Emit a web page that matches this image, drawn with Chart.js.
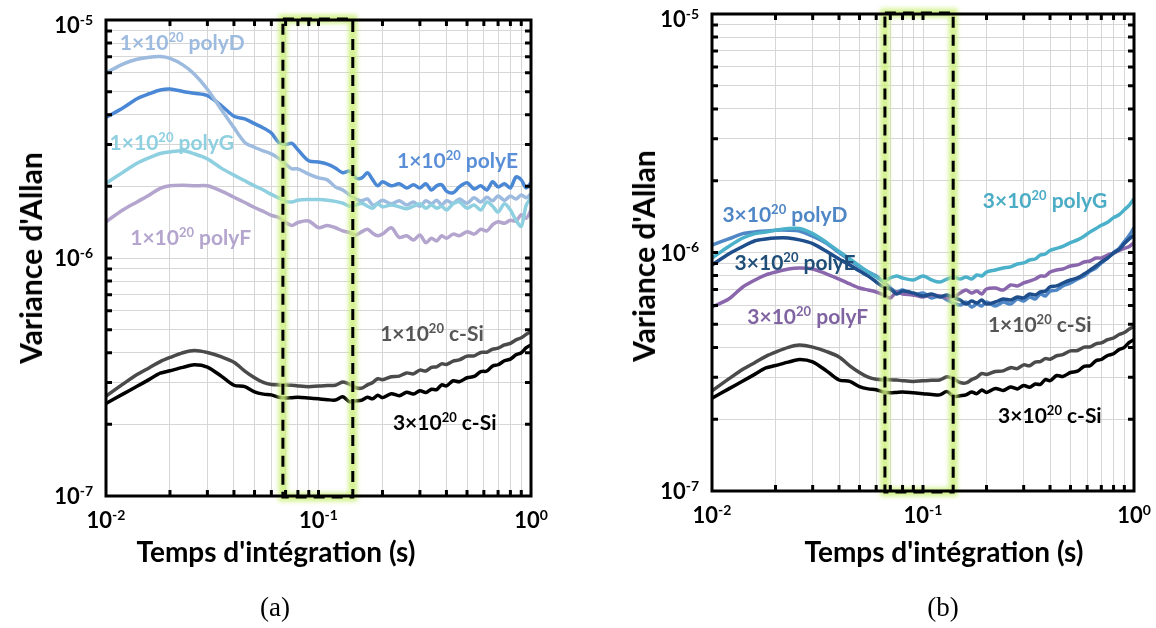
<!DOCTYPE html>
<html>
<head>
<meta charset="utf-8">
<title>Variance d'Allan</title>
<script src="https://cdn.jsdelivr.net/npm/chart.js@4.4.1/dist/chart.umd.min.js"></script>
<style>
  html, body { margin: 0; padding: 0; background: #fff; }
  #wrap { position: relative; width: 1156px; height: 628px; overflow: hidden; font-family: Lato, "Open Sans", sans-serif; }
  #wrap canvas { position: absolute; left: 0; top: 0; }
  .lbl { position: absolute; white-space: nowrap; font-weight: 700; color: #000; transform: translate(-50%, -50%); }
  .xt { font-size: 28px; }
  .yt { font-size: 30px; transform: translate(-50%, -50%) rotate(-90deg); }
  .cap { font-family: "Liberation Serif", "Times New Roman", serif; font-weight: 400; font-size: 27px; }
</style>
</head>
<body>
<div id="wrap">
  <canvas id="chartA" width="1156" height="628"></canvas>
  <canvas id="chartB" width="1156" height="628"></canvas>
  <div class="lbl yt" style="left:30px; top:258px">Variance d'Allan</div>
  <div class="lbl yt" style="left:643px; top:256px">Variance d'Allan</div>
  <div class="lbl xt" style="left:276px; top:551px">Temps d'intégration (s)</div>
  <div class="lbl xt" style="left:944px; top:551px">Temps d'intégration (s)</div>
  <div class="lbl cap" style="left:275px; top:607px">(a)</div>
  <div class="lbl cap" style="left:943px; top:607px">(b)</div>
</div>
<script>
// integration time (s), shared by every curve
const tau = [0.01, 0.012, 0.014, 0.016, 0.018, 0.02, 0.023, 0.026, 0.03, 0.035, 0.04, 0.045, 0.05, 0.055,
  0.06, 0.065, 0.07, 0.075, 0.08, 0.09, 0.1, 0.11, 0.12, 0.13, 0.14, 0.15,
  0.16, 0.17, 0.18, 0.19, 0.2, 0.22, 0.24, 0.26, 0.28, 0.3, 0.32, 0.34, 0.36, 0.38, 0.4,
  0.43, 0.46, 0.5, 0.54, 0.58, 0.62, 0.66, 0.7, 0.75, 0.8, 0.85, 0.9, 0.95, 1.0];

// (a) 1e20 doped samples
const polyD1 = [5.99e-6, 6.53e-6, 6.84e-6, 6.98e-6, 7.02e-6, 6.90e-6, 6.48e-6, 5.93e-6, 5.12e-6, 4.19e-6, 3.53e-6, 3.06e-6, 2.92e-6, 2.82e-6,
  2.74e-6, 2.62e-6, 2.48e-6, 2.37e-6, 2.37e-6, 2.25e-6, 2.17e-6, 2.13e-6, 1.99e-6, 1.93e-6, 1.84e-6, 1.77e-6,
  1.74e-6, 1.77e-6, 1.67e-6, 1.70e-6, 1.75e-6, 1.69e-6, 1.74e-6, 1.67e-6, 1.72e-6, 1.65e-6, 1.74e-6, 1.69e-6, 1.75e-6, 1.67e-6, 1.74e-6,
  1.70e-6, 1.77e-6, 1.70e-6, 1.79e-6, 1.72e-6, 1.80e-6, 1.74e-6, 1.82e-6, 1.75e-6, 1.82e-6, 1.77e-6, 1.84e-6, 1.79e-6, 1.86e-6];
const polyE1 = [3.90e-6, 4.27e-6, 4.67e-6, 4.90e-6, 5.08e-6, 5.13e-6, 5.01e-6, 4.92e-6, 4.81e-6, 4.36e-6, 3.94e-6, 3.84e-6, 3.67e-6, 3.52e-6,
  3.35e-6, 3.06e-6, 3.00e-6, 3.03e-6, 2.85e-6, 2.56e-6, 2.53e-6, 2.48e-6, 2.39e-6, 2.28e-6, 2.32e-6, 2.17e-6,
  2.17e-6, 2.28e-6, 2.13e-6, 2.01e-6, 2.09e-6, 2.01e-6, 2.05e-6, 1.97e-6, 2.03e-6, 1.97e-6, 2.05e-6, 1.93e-6, 2.01e-6, 2.03e-6, 1.91e-6,
  1.88e-6, 1.99e-6, 2.07e-6, 1.95e-6, 2.01e-6, 1.93e-6, 2.09e-6, 1.99e-6, 2.05e-6, 1.97e-6, 2.19e-6, 2.13e-6, 1.97e-6, 2.07e-6];
const polyG1 = [2.06e-6, 2.29e-6, 2.50e-6, 2.64e-6, 2.75e-6, 2.79e-6, 2.82e-6, 2.74e-6, 2.61e-6, 2.38e-6, 2.23e-6, 2.11e-6, 2.01e-6, 1.93e-6,
  1.85e-6, 1.79e-6, 1.73e-6, 1.72e-6, 1.75e-6, 1.76e-6, 1.76e-6, 1.75e-6, 1.73e-6, 1.70e-6, 1.65e-6, 1.67e-6,
  1.70e-6, 1.65e-6, 1.62e-6, 1.69e-6, 1.64e-6, 1.67e-6, 1.64e-6, 1.61e-6, 1.65e-6, 1.69e-6, 1.62e-6, 1.67e-6, 1.62e-6, 1.65e-6, 1.59e-6,
  1.69e-6, 1.72e-6, 1.62e-6, 1.67e-6, 1.59e-6, 1.72e-6, 1.65e-6, 1.56e-6, 1.69e-6, 1.59e-6, 1.44e-6, 1.36e-6, 1.67e-6, 1.79e-6];
const polyF1 = [1.42e-6, 1.59e-6, 1.72e-6, 1.84e-6, 1.96e-6, 2.01e-6, 2.02e-6, 2.01e-6, 2.01e-6, 1.91e-6, 1.80e-6, 1.71e-6, 1.63e-6, 1.57e-6,
  1.51e-6, 1.48e-6, 1.41e-6, 1.37e-6, 1.41e-6, 1.43e-6, 1.34e-6, 1.37e-6, 1.34e-6, 1.30e-6, 1.28e-6, 1.25e-6,
  1.29e-6, 1.32e-6, 1.27e-6, 1.24e-6, 1.26e-6, 1.34e-6, 1.22e-6, 1.24e-6, 1.19e-6, 1.25e-6, 1.16e-6, 1.21e-6, 1.18e-6, 1.24e-6, 1.21e-6,
  1.26e-6, 1.24e-6, 1.29e-6, 1.26e-6, 1.32e-6, 1.30e-6, 1.38e-6, 1.42e-6, 1.40e-6, 1.44e-6, 1.43e-6, 1.52e-6, 1.47e-6, 1.59e-6];

// crystalline references, same in (a) and (b)
const cSi1 = [2.63e-7, 2.95e-7, 3.24e-7, 3.46e-7, 3.67e-7, 3.82e-7, 4.00e-7, 4.09e-7, 4.01e-7, 3.84e-7, 3.65e-7, 3.35e-7, 3.14e-7, 3.00e-7,
  2.94e-7, 2.93e-7, 2.93e-7, 2.92e-7, 2.90e-7, 2.88e-7, 2.90e-7, 2.91e-7, 2.92e-7, 3.01e-7, 2.95e-7, 2.85e-7,
  2.84e-7, 2.93e-7, 3.00e-7, 3.11e-7, 3.08e-7, 3.17e-7, 3.19e-7, 3.29e-7, 3.26e-7, 3.38e-7, 3.35e-7, 3.47e-7, 3.49e-7, 3.59e-7, 3.57e-7,
  3.69e-7, 3.73e-7, 3.87e-7, 3.88e-7, 4.01e-7, 4.02e-7, 4.14e-7, 4.18e-7, 4.31e-7, 4.38e-7, 4.53e-7, 4.62e-7, 4.78e-7, 4.90e-7];
const cSi3 = [2.45e-7, 2.68e-7, 2.89e-7, 3.09e-7, 3.28e-7, 3.36e-7, 3.47e-7, 3.56e-7, 3.48e-7, 3.18e-7, 2.92e-7, 2.88e-7, 2.74e-7, 2.68e-7,
  2.66e-7, 2.60e-7, 2.58e-7, 2.59e-7, 2.60e-7, 2.58e-7, 2.56e-7, 2.54e-7, 2.53e-7, 2.61e-7, 2.49e-7, 2.51e-7,
  2.53e-7, 2.60e-7, 2.56e-7, 2.65e-7, 2.59e-7, 2.69e-7, 2.64e-7, 2.73e-7, 2.68e-7, 2.77e-7, 2.72e-7, 2.81e-7, 2.80e-7, 2.93e-7, 2.90e-7,
  3.05e-7, 3.02e-7, 3.14e-7, 3.18e-7, 3.33e-7, 3.35e-7, 3.52e-7, 3.56e-7, 3.70e-7, 3.76e-7, 3.92e-7, 4.00e-7, 4.20e-7, 4.31e-7];

// (b) 3e20 doped samples
const polyD3 = [1.075e-6, 1.14e-6, 1.20e-6, 1.22e-6, 1.23e-6, 1.24e-6, 1.24e-6, 1.23e-6, 1.17e-6, 1.09e-6, 1.00e-6, 9.30e-7, 8.70e-7, 8.28e-7,
  7.97e-7, 7.52e-7, 7.10e-7, 6.83e-7, 6.96e-7, 6.64e-7, 6.76e-7, 6.45e-7, 6.57e-7, 6.32e-7, 6.14e-7, 6.02e-7,
  6.20e-7, 5.91e-7, 6.08e-7, 5.97e-7, 6.20e-7, 5.97e-7, 6.20e-7, 6.08e-7, 6.38e-7, 6.26e-7, 6.51e-7, 6.38e-7, 6.70e-7, 6.57e-7, 6.89e-7,
  6.96e-7, 7.24e-7, 7.45e-7, 7.74e-7, 7.97e-7, 8.36e-7, 8.61e-7, 9.04e-7, 9.48e-7, 1.00e-6, 1.04e-6, 1.11e-6, 1.18e-6, 1.27e-6];
const polyE3 = [8.87e-7, 9.86e-7, 1.06e-6, 1.12e-6, 1.14e-6, 1.15e-6, 1.15e-6, 1.13e-6, 1.09e-6, 1.01e-6, 9.39e-7, 8.87e-7, 8.36e-7, 7.97e-7,
  7.52e-7, 7.17e-7, 7.03e-7, 6.70e-7, 6.89e-7, 6.76e-7, 6.57e-7, 6.70e-7, 6.51e-7, 6.64e-7, 6.45e-7, 6.32e-7,
  6.08e-7, 6.26e-7, 6.14e-7, 6.32e-7, 6.08e-7, 6.20e-7, 6.38e-7, 6.32e-7, 6.51e-7, 6.45e-7, 6.70e-7, 6.64e-7, 6.83e-7, 6.89e-7, 7.17e-7,
  7.24e-7, 7.45e-7, 7.67e-7, 7.82e-7, 8.12e-7, 8.45e-7, 8.78e-7, 9.12e-7, 9.48e-7, 9.95e-7, 1.03e-6, 1.09e-6, 1.14e-6, 1.18e-6];
const polyG3 = [9.48e-7, 1.06e-6, 1.15e-6, 1.20e-6, 1.22e-6, 1.24e-6, 1.26e-6, 1.26e-6, 1.20e-6, 1.10e-6, 1.01e-6, 9.39e-7, 8.78e-7, 8.28e-7,
  7.89e-7, 7.59e-7, 7.82e-7, 7.97e-7, 7.82e-7, 7.67e-7, 7.97e-7, 7.67e-7, 7.52e-7, 7.74e-7, 7.89e-7, 7.74e-7,
  7.89e-7, 7.74e-7, 8.05e-7, 7.97e-7, 8.28e-7, 8.45e-7, 8.61e-7, 8.70e-7, 8.95e-7, 9.04e-7, 9.30e-7, 9.39e-7, 9.76e-7, 9.86e-7, 1.02e-6,
  1.04e-6, 1.06e-6, 1.10e-6, 1.13e-6, 1.17e-6, 1.22e-6, 1.26e-6, 1.30e-6, 1.34e-6, 1.40e-6, 1.44e-6, 1.51e-6, 1.58e-6, 1.68e-6];
const polyF3 = [5.91e-7, 6.38e-7, 7.17e-7, 7.67e-7, 8.05e-7, 8.28e-7, 8.53e-7, 8.61e-7, 8.53e-7, 8.12e-7, 7.74e-7, 7.38e-7, 7.10e-7, 6.96e-7,
  6.83e-7, 6.64e-7, 6.45e-7, 6.83e-7, 6.70e-7, 6.64e-7, 6.51e-7, 6.64e-7, 6.57e-7, 6.45e-7, 6.51e-7, 6.76e-7,
  6.96e-7, 6.76e-7, 6.89e-7, 6.70e-7, 7.03e-7, 7.10e-7, 6.96e-7, 7.31e-7, 7.24e-7, 7.45e-7, 7.59e-7, 7.74e-7, 7.97e-7, 7.97e-7, 8.28e-7,
  8.45e-7, 8.53e-7, 8.78e-7, 8.87e-7, 9.12e-7, 9.21e-7, 9.48e-7, 9.48e-7, 9.76e-7, 9.95e-7, 1.02e-6, 1.04e-6, 1.06e-6, 1.10e-6];

// axis decades
const xDecades = [0.01, 0.1, 1];
const yDecades = [1e-7, 1e-6, 1e-5];
const xTickSup = ['-2', '-1', '0'];
const yTickSup = ['-7', '-6', '-5'];

// highlighted window (s)
const windowA = [0.068, 0.145];
const windowB = [0.066, 0.139];

function logTicks(decades) {
  let ticks = [];
  for (let d = 0; d < decades.length - 1; d++) {
    for (let m = 1; m < 10; m++) {
      ticks.push({value: m * decades[d]});
    }
  }
  ticks.push({value: decades[decades.length - 1]});
  return ticks;
}

function drawSup(ctx, x, y, parts, size, color, align) {
  let fb = '700 ' + size + 'px Lato';
  let fs = '700 ' + Math.round(size * 0.64) + 'px Lato';
  ctx.font = fb;
  let w1 = ctx.measureText(parts[0]).width;
  let w3 = parts[2] ? ctx.measureText(parts[2]).width : 0;
  ctx.font = fs;
  let w2 = ctx.measureText(parts[1]).width;
  let total = w1 + w2 + w3;
  let x0 = align == 'right' ? x - total : (align == 'center' ? x - total / 2 : x);
  ctx.fillStyle = color;
  ctx.textAlign = 'left';
  ctx.textBaseline = 'alphabetic';
  ctx.font = fb;
  ctx.fillText(parts[0], x0, y);
  ctx.font = fs;
  ctx.fillText(parts[1], x0 + w1, y - size * 0.38);
  if (parts[2]) {
    ctx.font = fb;
    ctx.fillText(parts[2], x0 + w1 + w2, y);
  }
}

const framePlugin = {
  id: 'frame',
  afterDatasetsDraw(chart, args, opts) {
    const ctx = chart.ctx;
    const a = chart.chartArea;
    const xs = chart.scales.x, ys = chart.scales.y;
    ctx.save();

    // dashed window with a soft green glow
    let x0 = xs.getPixelForValue(opts.window[0]);
    let x1 = xs.getPixelForValue(opts.window[1]);
    ctx.filter = 'blur(2px)';
    ctx.strokeStyle = 'rgba(205,240,125,0.85)';
    ctx.lineWidth = 9;
    ctx.strokeRect(x0, a.top - 1, x1 - x0, a.bottom - a.top + 2);
    ctx.filter = 'none';
    ctx.strokeStyle = '#000';
    ctx.lineWidth = 3;
    ctx.setLineDash([11, 7]);
    ctx.strokeRect(x0, a.top - 1, x1 - x0, a.bottom - a.top + 2);
    ctx.setLineDash([]);

    // plot frame and inward ticks
    ctx.strokeStyle = '#000';
    ctx.lineWidth = 3;
    ctx.strokeRect(a.left, a.top, a.right - a.left, a.bottom - a.top);
    ctx.beginPath();
    xs.ticks.forEach(t => {
      let p = xs.getPixelForValue(t.value);
      if (p <= a.left + 2 || p >= a.right - 2) return;
      ctx.moveTo(p, a.bottom); ctx.lineTo(p, a.bottom - 6);
      ctx.moveTo(p, a.top); ctx.lineTo(p, a.top + 6);
    });
    ys.ticks.forEach(t => {
      let p = ys.getPixelForValue(t.value);
      if (p <= a.top + 2 || p >= a.bottom - 2) return;
      ctx.moveTo(a.left, p); ctx.lineTo(a.left + 6, p);
      ctx.moveTo(a.right, p); ctx.lineTo(a.right - 6, p);
    });
    ctx.stroke();

    // tick labels 10^n
    xDecades.forEach((v, i) => {
      let p = xs.getPixelForValue(v);
      drawSup(ctx, p, a.bottom + 32, ['10', xTickSup[i]], 22, '#000', 'center');
    });
    yDecades.forEach((v, i) => {
      let p = Math.max(ys.getPixelForValue(v), a.top + 5);
      drawSup(ctx, a.left - 13, p + 8, ['10', yTickSup[i]], 22, '#000', 'right');
    });

    // curve labels
    opts.labels.forEach(l => {
      let px = xs.getPixelForValue(l.tau);
      let py = ys.getPixelForValue(l.val);
      drawSup(ctx, px, py + 7.5, [l.pre, '20', l.name], 21, l.color, 'left');
    });
    ctx.restore();
  }
};

function buildDatasets(list) {
  return list.map(s => ({
    label: s.name,
    data: tau.map((t, i) => ({x: t, y: s.values[i]})),
    borderColor: s.color,
    borderWidth: 3.5,
    pointRadius: 0,
    tension: 0.3,
    fill: false
  }));
}

function createChart(id, list, area, win, labels) {
  let ctx = document.getElementById(id).getContext('2d');
  return new Chart(ctx, {
    type: 'line',
    data: {datasets: buildDatasets(list)},
    options: {
      responsive: false,
      animation: false,
      devicePixelRatio: 1,
      layout: {padding: {left: area.left, top: area.top, right: 1156 - area.right, bottom: 628 - area.bottom}},
      plugins: {
        legend: {display: false},
        tooltip: {enabled: false},
        frame: {window: win, labels: labels}
      },
      scales: {
        x: {
          type: 'logarithmic', min: 0.01, max: 1,
          afterBuildTicks: s => { s.ticks = logTicks(xDecades); },
          afterFit: s => { s.height = 0; },
          ticks: {display: false},
          grid: {color: '#d6d6d6', lineWidth: 1, drawTicks: false},
          border: {display: false}
        },
        y: {
          type: 'logarithmic', min: 1e-7, max: 1e-5,
          afterBuildTicks: s => { s.ticks = logTicks(yDecades); },
          afterFit: s => { s.width = 0; },
          ticks: {display: false},
          grid: {color: '#d6d6d6', lineWidth: 1, drawTicks: false},
          border: {display: false}
        }
      }
    },
    plugins: [framePlugin]
  });
}

document.addEventListener('DOMContentLoaded', e => {
  // first dataset is drawn on top
  let seriesA = [
    {name: '1e20 c-Si', values: cSi1, color: '#4a4a4a'},
    {name: '3e20 c-Si', values: cSi3, color: '#000000'},
    {name: '1e20 polyG', values: polyG1, color: '#8ecfe0'},
    {name: '1e20 polyD', values: polyD1, color: '#9dbadf'},
    {name: '1e20 polyE', values: polyE1, color: '#4a88d6'},
    {name: '1e20 polyF', values: polyF1, color: '#b3a5cd'}
  ];
  let seriesB = [
    {name: '1e20 c-Si', values: cSi1, color: '#4a4a4a'},
    {name: '3e20 c-Si', values: cSi3, color: '#000000'},
    {name: '3e20 polyG', values: polyG3, color: '#4bb0c9'},
    {name: '3e20 polyE', values: polyE3, color: '#1f4e8c'},
    {name: '3e20 polyF', values: polyF3, color: '#8a66ad'},
    {name: '3e20 polyD', values: polyD3, color: '#4f86c6'}
  ];
  let labelsA = [
    {pre: '1×10', name: ' polyD', tau: 0.0116, val: 8.08e-6, color: '#9dbadf'},
    {pre: '1×10', name: ' polyG', tau: 0.0104, val: 3.07e-6, color: '#8ecfe0'},
    {pre: '1×10', name: ' polyF', tau: 0.0130, val: 1.22e-6, color: '#b3a5cd'},
    {pre: '1×10', name: ' polyE', tau: 0.234, val: 2.58e-6, color: '#5a8fd8'},
    {pre: '1×10', name: ' c-Si', tau: 0.195, val: 4.84e-7, color: '#555555'},
    {pre: '3×10', name: ' c-Si', tau: 0.224, val: 2.03e-7, color: '#000000'}
  ];
  let labelsB = [
    {pre: '3×10', name: ' polyD', tau: 0.0112, val: 1.45e-6, color: '#4f86c6'},
    {pre: '3×10', name: ' polyE', tau: 0.0128, val: 9.12e-7, color: '#1f4e79'},
    {pre: '3×10', name: ' polyF', tau: 0.0147, val: 5.37e-7, color: '#8064a2'},
    {pre: '3×10', name: ' polyG', tau: 0.192, val: 1.66e-6, color: '#4bacc6'},
    {pre: '1×10', name: ' c-Si', tau: 0.203, val: 4.97e-7, color: '#555555'},
    {pre: '3×10', name: ' c-Si', tau: 0.227, val: 2.08e-7, color: '#000000'}
  ];
  createChart('chartA', seriesA, {left: 106, top: 20, right: 531, bottom: 496}, windowA, labelsA);
  createChart('chartB', seriesB, {left: 712, top: 14, right: 1134, bottom: 491}, windowB, labelsB);
});
</script>
</body>
</html>
